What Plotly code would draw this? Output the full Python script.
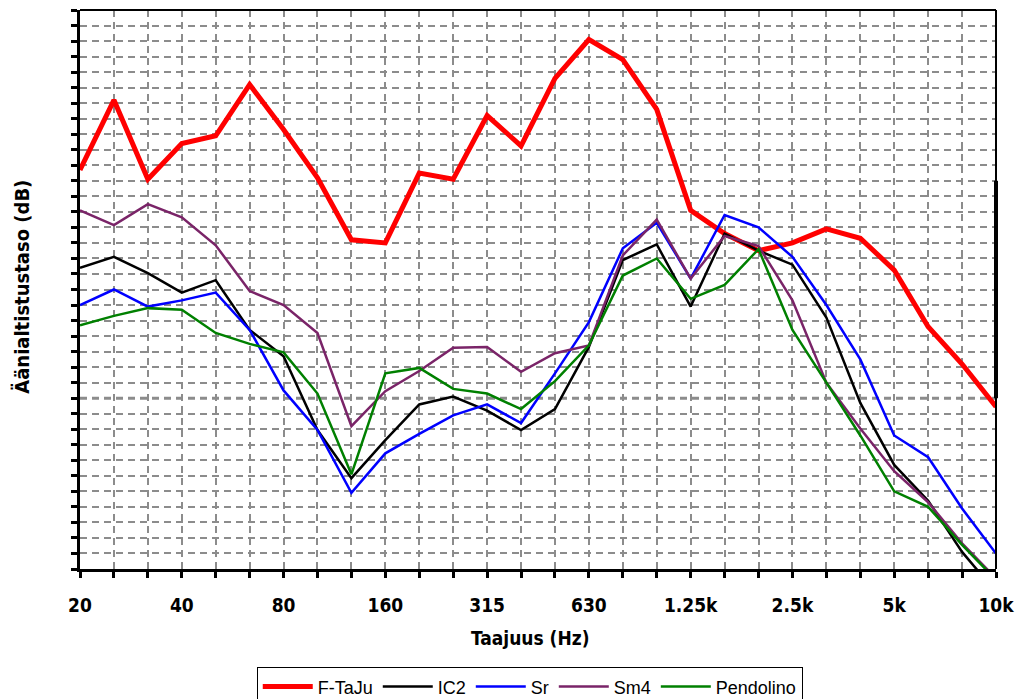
import plotly.graph_objects as go

# 1/3-octave band centre frequencies (Hz)
bands = ["20", "25", "31.5", "40", "50", "63", "80", "100", "125", "160",
         "200", "250", "315", "400", "500", "630", "800", "1k", "1.25k", "1.6k",
         "2k", "2.5k", "3.15k", "4k", "5k", "6.3k", "8k", "10k"]
tick_labels = ["20", "", "", "40", "", "", "80", "", "", "160", "", "", "315", "", "",
               "630", "", "", "1.25k", "", "", "2.5k", "", "", "5k", "", "", "10k"]

f_taju = [75.7, 80.2, 75.1, 77.4, 77.9, 81.2, 78.3, 75.2, 71.2, 71.0,
          75.5, 75.1, 79.2, 77.25, 81.6, 84.1, 82.8, 79.6, 73.1, 71.6,
          70.5, 71.0, 71.9, 71.3, 69.25, 65.6, 63.2, 60.45]
ic2 = [69.4, 70.1, 69.05, 67.8, 68.6, 65.4, 63.7, 58.95, 55.85, 58.3,
       60.6, 61.1, 60.2, 58.95, 60.3, 64.3, 69.9, 70.9, 66.9, 71.6,
       70.5, 69.6, 66.2, 60.7, 56.7, 54.4, 51.1, 48.5]
sr = [67.0, 68.0, 66.9, 67.3, 67.8, 65.4, 61.5, 58.95, 54.9, 57.45,
      58.7, 59.9, 60.6, 59.4, 62.6, 65.9, 70.65, 72.3, 68.7, 72.8,
      72.0, 70.1, 67.0, 63.5, 58.6, 57.2, 53.9, 51.0]
sm4 = [73.1, 72.15, 73.5, 72.65, 70.85, 67.9, 67.0, 65.2, 59.2, 61.45,
       62.75, 64.25, 64.3, 62.7, 63.9, 64.4, 70.2, 72.5, 68.7, 71.45,
       70.8, 67.3, 62.0, 59.05, 56.3, 54.3, 51.65, 49.4]
pendolino = [65.7, 66.3, 66.8, 66.7, 65.2, 64.5, 63.95, 61.3, 56.1, 62.6,
             62.95, 61.6, 61.3, 60.3, 62.1, 64.4, 68.9, 70.0, 67.4, 68.3,
             70.6, 65.4, 62.0, 58.6, 55.0, 54.0, 51.55, 49.3]

series_names = ["F-TaJu", "IC2", "Sr", "Sm4", "Pendolino"]
series_values = [f_taju, ic2, sr, sm4, pendolino]
series_colors = ["#FF0000", "#000000", "#0000FF", "#7A2468", "#008000"]
series_widths = [5, 2.5, 2.5, 2.5, 2.5]

Y_MIN, Y_MAX = 50, 86

fig = go.Figure()
for name, vals, col, w in zip(series_names, series_values, series_colors, series_widths):
    fig.add_trace(go.Scatter(x=bands, y=vals, mode="lines", name=name,
                             line=dict(color=col, width=w)))

font_bold = "Liberation Sans Narrow, DejaVu Sans Condensed, Arial Narrow, Liberation Sans, Arial"
font_reg = "Liberation Sans, Arial"
fig.update_layout(
    width=1016, height=699,
    margin=dict(l=80, r=20, t=10, b=130, autoexpand=False),
    paper_bgcolor="white", plot_bgcolor="white",
    showlegend=True,
    legend=dict(orientation="h", x=0.491, xanchor="center", y=-0.176, yanchor="top",
                bordercolor="black", borderwidth=1, bgcolor="white",
                font=dict(family=font_reg, size=18, color="black"),
                itemwidth=50, tracegroupgap=0),
    xaxis=dict(type="category", range=[0, len(bands) - 1], automargin=False,
               tickmode="array", tickvals=bands, ticktext=tick_labels,
               ticks="outside", ticklen=6, tickwidth=3, tickcolor="black",
               showline=True, linecolor="black", linewidth=3,
               showgrid=True, gridcolor="#8c8c8c", gridwidth=1.5, griddash="7px,5px",
               tickfont=dict(family=font_bold, size=19, color="black", weight="bold"),
               ticklabelstandoff=11),
    yaxis=dict(range=[Y_MIN, Y_MAX], dtick=1, tick0=Y_MIN, automargin=False,
               showticklabels=False,
               ticks="outside", ticklen=6, tickwidth=3, tickcolor="black",
               showline=True, linecolor="black", linewidth=3,
               showgrid=True, gridcolor="#8c8c8c", gridwidth=1.5, griddash="7px,5px",
               zeroline=False),
    annotations=[
        dict(text="Taajuus (Hz)", xref="paper", yref="paper", x=0.491, y=-0.1234,
             xanchor="center", yanchor="middle", showarrow=False,
             font=dict(family=font_bold, size=19, color="black", weight="bold")),
        dict(text="Äänialtistustaso (dB)", xref="paper", yref="paper", x=-0.0633, y=0.505,
             xanchor="center", yanchor="middle", textangle=-90, showarrow=False,
             font=dict(family=font_bold, size=20, color="black", weight="bold")),
    ],
    shapes=[
        dict(type="line", xref="paper", yref="paper", x0=0, x1=1, y0=1, y1=1,
             line=dict(color="black", width=2)),
        dict(type="line", xref="paper", yref="paper", x0=1, x1=1, y0=0, y1=1,
             line=dict(color="black", width=2)),
        dict(type="line", xref="paper", yref="y", x0=1, x1=1, y0=61, y1=75,
             line=dict(color="black", width=4)),
        dict(type="line", xref="paper", yref="y", x0=0, x1=1, y0=61, y1=61,
             line=dict(color="#8c8c8c", width=3, dash="7px,5px"), layer="below"),
    ],
)

fig.write_html("out.html", config={"displayModeBar": False},
               post_script="document.body.style.margin='0';document.body.style.overflow='hidden';")
